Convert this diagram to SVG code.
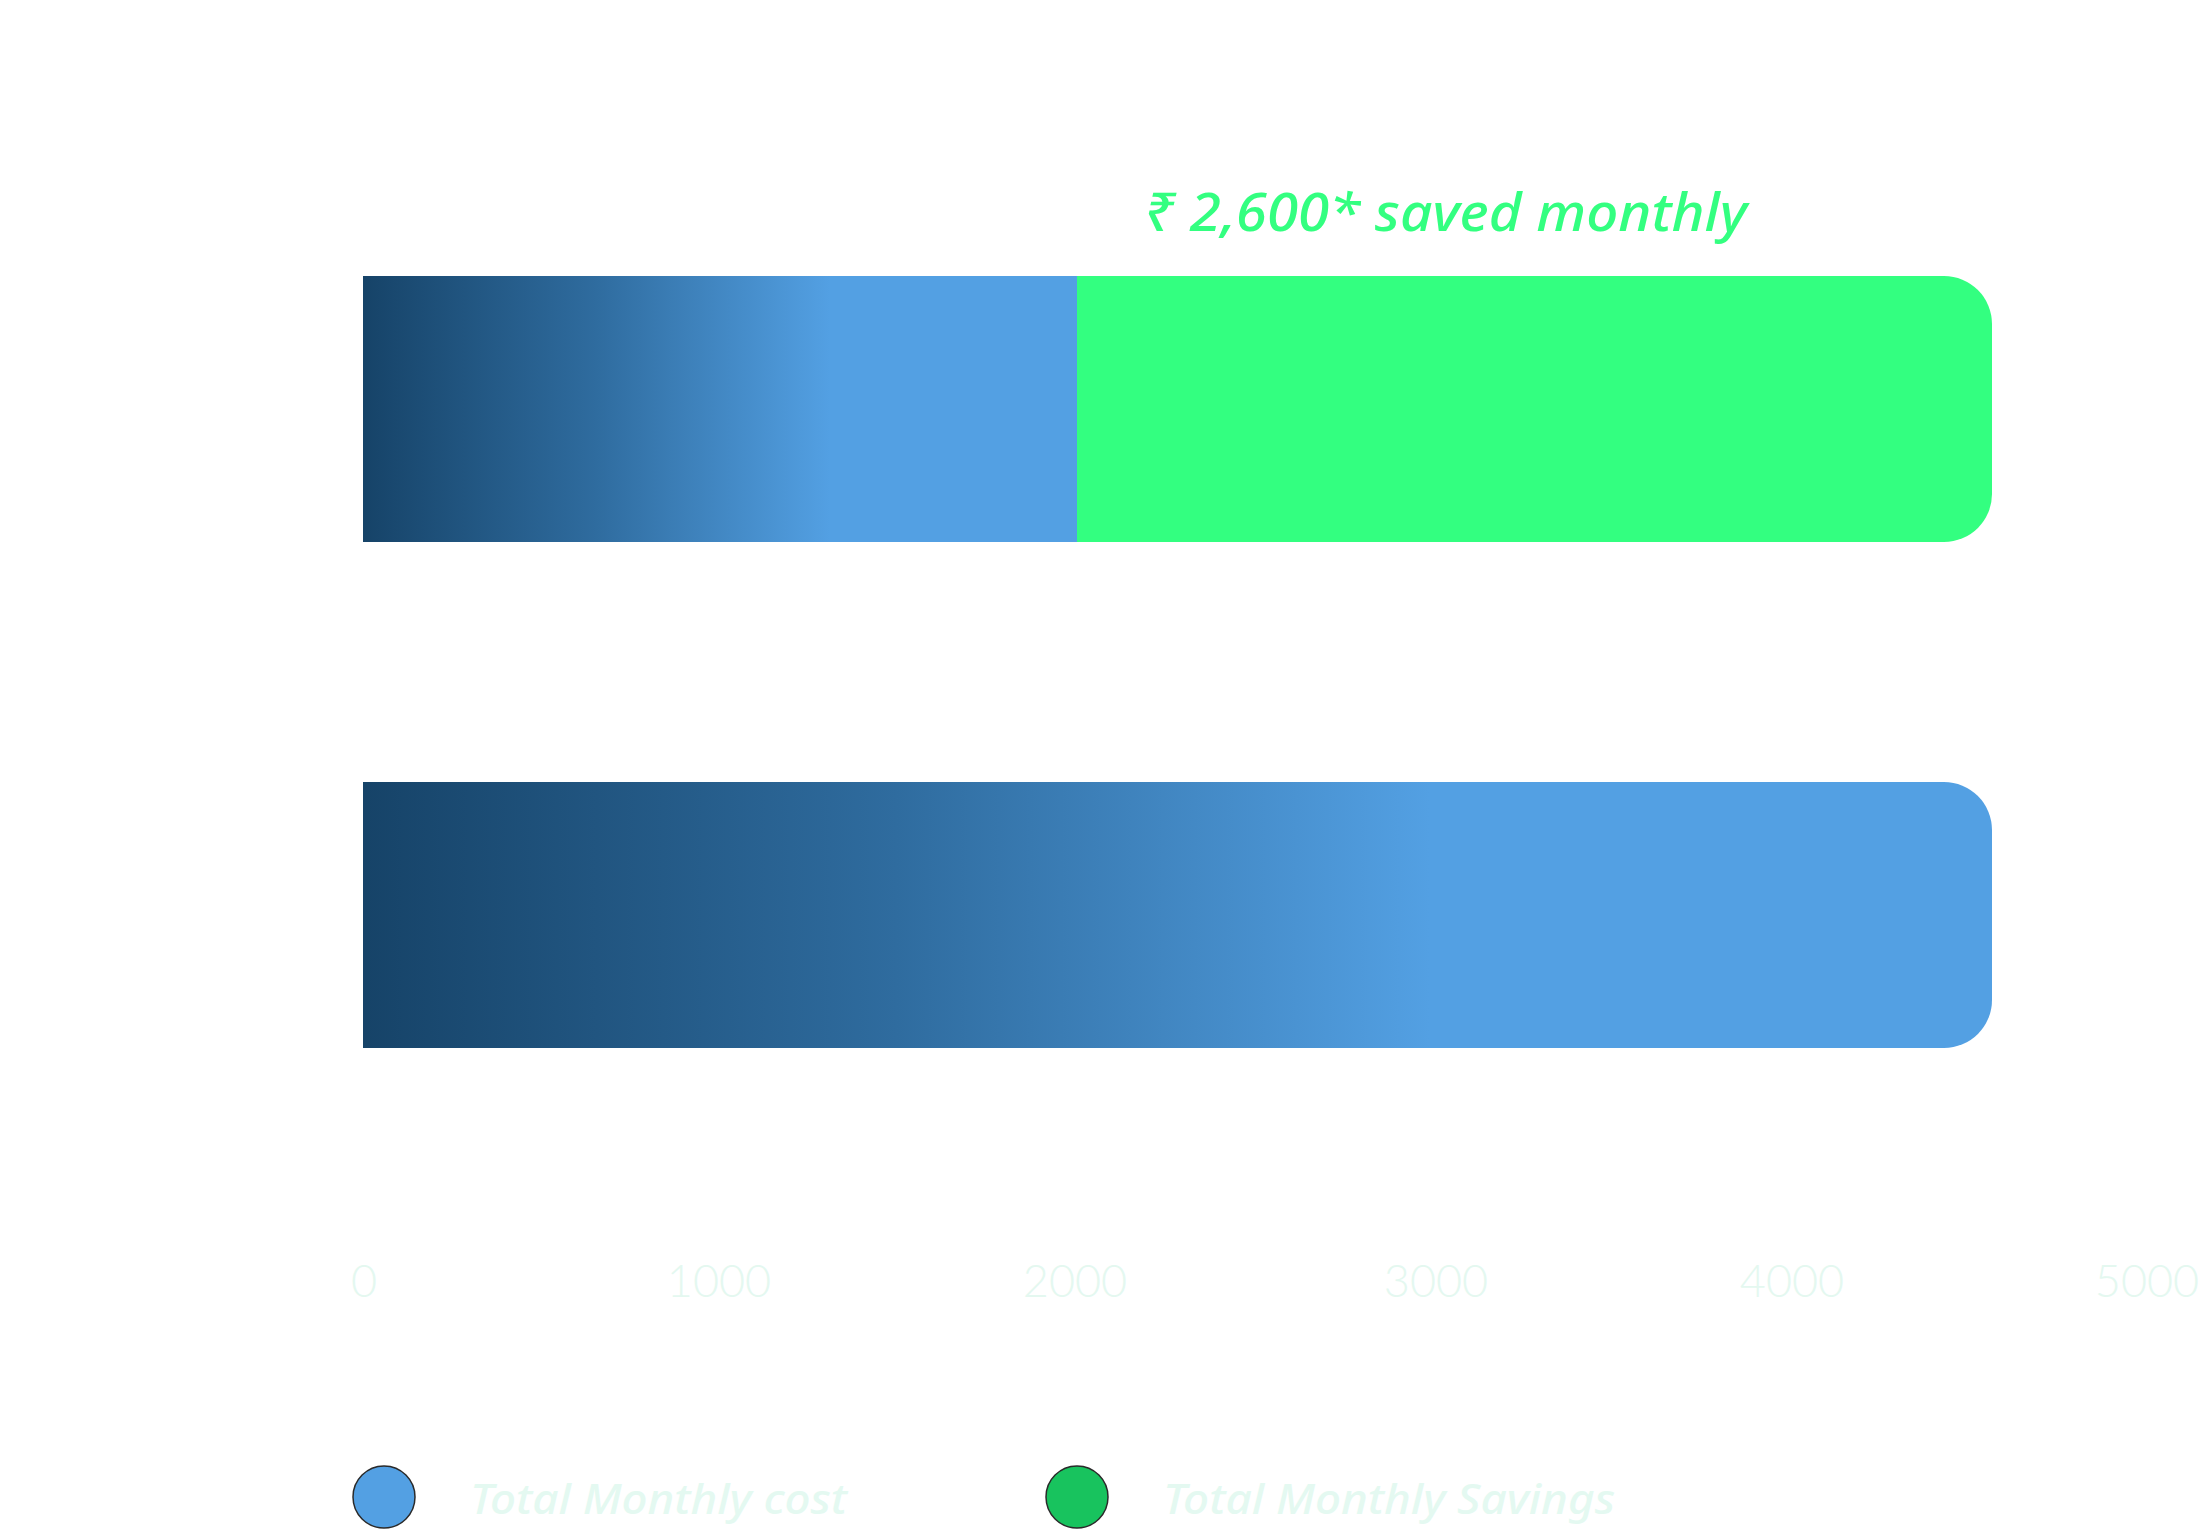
<svg xmlns="http://www.w3.org/2000/svg" width="2205" height="1533" viewBox="0 0 2205 1533">
  <style>
    .axis { font-family: "Lato", "Open Sans", sans-serif; font-weight: 300; font-size: 45px; fill: #E4F8F0; text-anchor: middle; }
    .legend { font-family: "Noto Sans", "Open Sans", sans-serif; font-style: italic; font-weight: 500; font-size: 41px; fill: #E4F9F1; }
    .headline { font-family: "Noto Sans", "DejaVu Sans", sans-serif; font-style: italic; font-weight: 500; font-size: 53px; fill: #33FF80; }
  </style>
  <defs>
    <linearGradient id="gTop" gradientUnits="userSpaceOnUse" x1="363" y1="0" x2="830" y2="0">
      <stop offset="0" stop-color="#164368"/>
      <stop offset="0.5" stop-color="#2F6C9F"/>
      <stop offset="1" stop-color="#53A0E3"/>
    </linearGradient>
    <linearGradient id="gBottom" gradientUnits="userSpaceOnUse" x1="363" y1="0" x2="1430" y2="0">
      <stop offset="0" stop-color="#164368"/>
      <stop offset="0.5" stop-color="#2F6C9F"/>
      <stop offset="1" stop-color="#53A0E3"/>
    </linearGradient>
  </defs>
  <rect width="2205" height="1533" fill="#FFFFFF"/>

  <g id="bar-top">
    <rect x="363" y="276" width="715" height="266" fill="url(#gTop)"/>
    <path d="M1077 276 H1944 A48 48 0 0 1 1992 324 V494 A48 48 0 0 1 1944 542 H1077 Z" fill="#33FF80"/>
  </g>

  <g id="headline">
    <text class="headline" x="1144" y="231" textLength="603" lengthAdjust="spacingAndGlyphs">₹ 2,600* saved monthly</text>
  </g>

  <g id="bar-bottom">
    <path d="M363 782 H1944 A48 48 0 0 1 1992 830 V1000 A48 48 0 0 1 1944 1048 H363 Z" fill="url(#gBottom)"/>
  </g>

  <g id="axis">
    <text class="axis" x="364" y="1297">0</text>
    <text class="axis" x="719" y="1297">1000</text>
    <text class="axis" x="1075" y="1297">2000</text>
    <text class="axis" x="1436" y="1297">3000</text>
    <text class="axis" x="1792" y="1297">4000</text>
    <text class="axis" x="2147" y="1297">5000</text>
  </g>

  <g id="legend-cost">
    <circle cx="384" cy="1497" r="31" fill="#53A0E3" stroke="#2A2A2A" stroke-width="1.5"/>
    <text class="legend" x="470" y="1514" textLength="377" lengthAdjust="spacingAndGlyphs">Total Monthly cost</text>
  </g>

  <g id="legend-savings">
    <circle cx="1077" cy="1497" r="31" fill="#18C35E" stroke="#2A2A2A" stroke-width="1.5"/>
    <text class="legend" x="1163" y="1514" textLength="452" lengthAdjust="spacingAndGlyphs">Total Monthly Savings</text>
  </g>
</svg>
